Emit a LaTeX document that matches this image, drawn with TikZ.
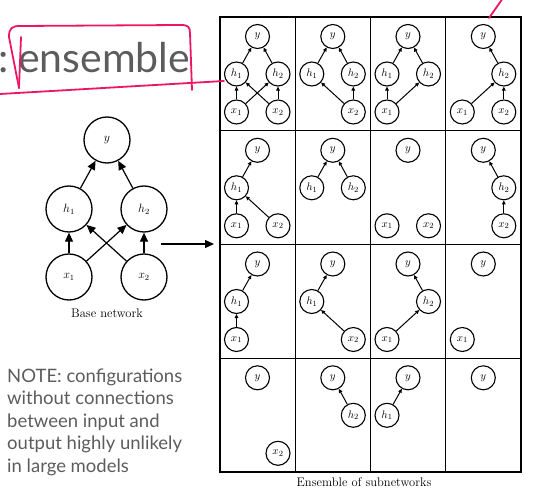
\documentclass[tikz,border=0pt]{standalone}
\usepackage{fontspec}
\usetikzlibrary{arrows.meta}
\newfontfamily\notefont{Lato}
\definecolor{notegray}{RGB}{92,92,92}
\definecolor{inkpink}{RGB}{236,22,98}
\tikzset{
  snode/.style={circle,draw,line width=1.1pt,minimum size=24pt,inner sep=0pt,font=\fontsize{11}{11}\selectfont},
  bnode/.style={circle,draw,line width=1.3pt,minimum size=46pt,inner sep=0pt,font=\fontsize{11.5}{11.5}\selectfont},
  sedge/.style={line width=1pt,-{Triangle[length=4pt,width=3.6pt]}},
  bedge/.style={line width=1.2pt,-{Triangle[length=9pt,width=8pt]}},
  gridline/.style={line width=1.3pt},
  ink/.style={inkpink,line width=1.8pt,line cap=round,line join=round},
  noteline/.style={font=\notefont\fontsize{18.5}{22.7}\selectfont,text=notegray,anchor=base west,inner sep=0pt},
  caption/.style={font=\fontsize{12.5}{13}\selectfont}
}
\newcommand\cY[1]{\node[snode] (#1y) at (37.5,19.5) {$y$};}
\newcommand\cHa[1]{\node[snode] (#1ha) at (16.5,57) {$h_1$};}
\newcommand\cHb[1]{\node[snode] (#1hb) at (58,57) {$h_2$};}
\newcommand\cXa[1]{\node[snode] (#1xa) at (16.5,95) {$x_1$};}
\newcommand\cXb[1]{\node[snode] (#1xb) at (58,95) {$x_2$};}
\begin{document}
\begin{tikzpicture}[x=1pt,y=-1pt]
\useasboundingbox (0,0) rectangle (535,494);
% base network
\node[bnode] (by) at (107,140) {$y$};
\node[bnode] (bha) at (69,209) {$h_1$};
\node[bnode] (bhb) at (144,209) {$h_2$};
\node[bnode] (bxa) at (69,277) {$x_1$};
\node[bnode] (bxb) at (144,277) {$x_2$};
\draw[bedge] (bxa) -- (bha);
\draw[bedge] (bxb) -- (bhb);
\draw[bedge] (bxa) -- (bhb);
\draw[bedge] (bxb) -- (bha);
\draw[bedge] (bha) -- (by);
\draw[bedge] (bhb) -- (by);
\node[caption] (bcap) at (107,313) {Base network};
\coordinate (arrS) at (161,244);
\coordinate (arrE) at (214,244);
\draw[bedge] (arrS) -- (arrE);
% grid
\draw[gridline] (220,17) rectangle (521,472);
\foreach \xx in {295.3,370.5,445.8} \draw[gridline] (\xx,17) -- (\xx,472);
\foreach \yy in {130.8,244.5,358.3} \draw[gridline] (220,\yy) -- (521,\yy);
\node[caption] (ecap) at (364,482) {Ensemble of subnetworks};
% row 1
\begin{scope}[shift={(220,17)}]
\cY{a}\cHa{a}\cHb{a}\cXa{a}\cXb{a}
\draw[sedge] (axa) -- (aha); \draw[sedge] (axa) -- (ahb);
\draw[sedge] (axb) -- (aha); \draw[sedge] (axb) -- (ahb);
\draw[sedge] (aha) -- (ay); \draw[sedge] (ahb) -- (ay);
\end{scope}
\begin{scope}[shift={(295.3,17)}]
\cY{b}\cHa{b}\cHb{b}\cXb{b}
\draw[sedge] (bxb) -- (bha); \draw[sedge] (bxb) -- (bhb);
\draw[sedge] (bha) -- (by); \draw[sedge] (bhb) -- (by);
\end{scope}
\begin{scope}[shift={(370.5,17)}]
\cY{c}\cHa{c}\cHb{c}\cXa{c}
\draw[sedge] (cxa) -- (cha); \draw[sedge] (cxa) -- (chb);
\draw[sedge] (cha) -- (cy); \draw[sedge] (chb) -- (cy);
\end{scope}
\begin{scope}[shift={(445.8,17)}]
\cY{d}\cHb{d}\cXa{d}\cXb{d}
\draw[sedge] (dxa) -- (dhb); \draw[sedge] (dxb) -- (dhb);
\draw[sedge] (dhb) -- (dy);
\end{scope}
% row 2
\begin{scope}[shift={(220,130.8)}]
\cY{e}\cHa{e}\cXa{e}\cXb{e}
\draw[sedge] (exa) -- (eha); \draw[sedge] (exb) -- (eha);
\draw[sedge] (eha) -- (ey);
\end{scope}
\begin{scope}[shift={(295.3,130.8)}]
\cY{f}\cHa{f}\cHb{f}
\draw[sedge] (fha) -- (fy); \draw[sedge] (fhb) -- (fy);
\end{scope}
\begin{scope}[shift={(370.5,130.8)}]
\cY{g}\cXa{g}\cXb{g}
\end{scope}
\begin{scope}[shift={(445.8,130.8)}]
\cY{h}\cHb{h}\cXb{h}
\draw[sedge] (hxb) -- (hhb); \draw[sedge] (hhb) -- (hy);
\end{scope}
% row 3
\begin{scope}[shift={(220,244.5)}]
\cY{i}\cHa{i}\cXa{i}
\draw[sedge] (ixa) -- (iha); \draw[sedge] (iha) -- (iy);
\end{scope}
\begin{scope}[shift={(295.3,244.5)}]
\cY{j}\cHa{j}\cXb{j}
\draw[sedge] (jxb) -- (jha); \draw[sedge] (jha) -- (jy);
\end{scope}
\begin{scope}[shift={(370.5,244.5)}]
\cY{k}\cHb{k}\cXa{k}
\draw[sedge] (kxa) -- (khb); \draw[sedge] (khb) -- (ky);
\end{scope}
\begin{scope}[shift={(445.8,244.5)}]
\cY{l}\cXa{l}
\end{scope}
% row 4
\begin{scope}[shift={(220,358.3)}]
\cY{m}\cXb{m}
\end{scope}
\begin{scope}[shift={(295.3,358.3)}]
\cY{n}\cHb{n}
\draw[sedge] (nhb) -- (ny);
\end{scope}
\begin{scope}[shift={(370.5,358.3)}]
\cY{o}\cHa{o}
\draw[sedge] (oha) -- (oy);
\end{scope}
\begin{scope}[shift={(445.8,358.3)}]
\cY{p}
\end{scope}
% texts
\node[noteline] (n1) at (7,382) {NOTE: configurations};
\node[noteline] (n2) at (7,404.5) {without connections};
\node[noteline] (n3) at (7,427) {between input and};
\node[noteline] (n4) at (7,449.5) {output highly unlikely};
\node[noteline] (n5) at (7,472) {in large models};
\node[anchor=base west,inner sep=0pt,text=notegray,font=\notefont\fontsize{41}{41}\selectfont] (ens) at (18,73) {ensemble};
\node[anchor=base west,inner sep=0pt,text=notegray,font=\notefont\fontsize{41}{41}\selectfont] (colon) at (-1.5,73) {:};
% ink
\draw[ink] (19,88) -- (9,37) .. controls (9,28) and (12,26) .. (20,26) -- (181,25) .. controls (188,25) and (190,27) .. (190,33) -- (192,90);
\draw[ink] (21,37) -- (19,88);
\draw[ink] (0,94) -- (224,81);
\draw[ink] (489,18) -- (503,-2);
\end{tikzpicture}
\end{document}
